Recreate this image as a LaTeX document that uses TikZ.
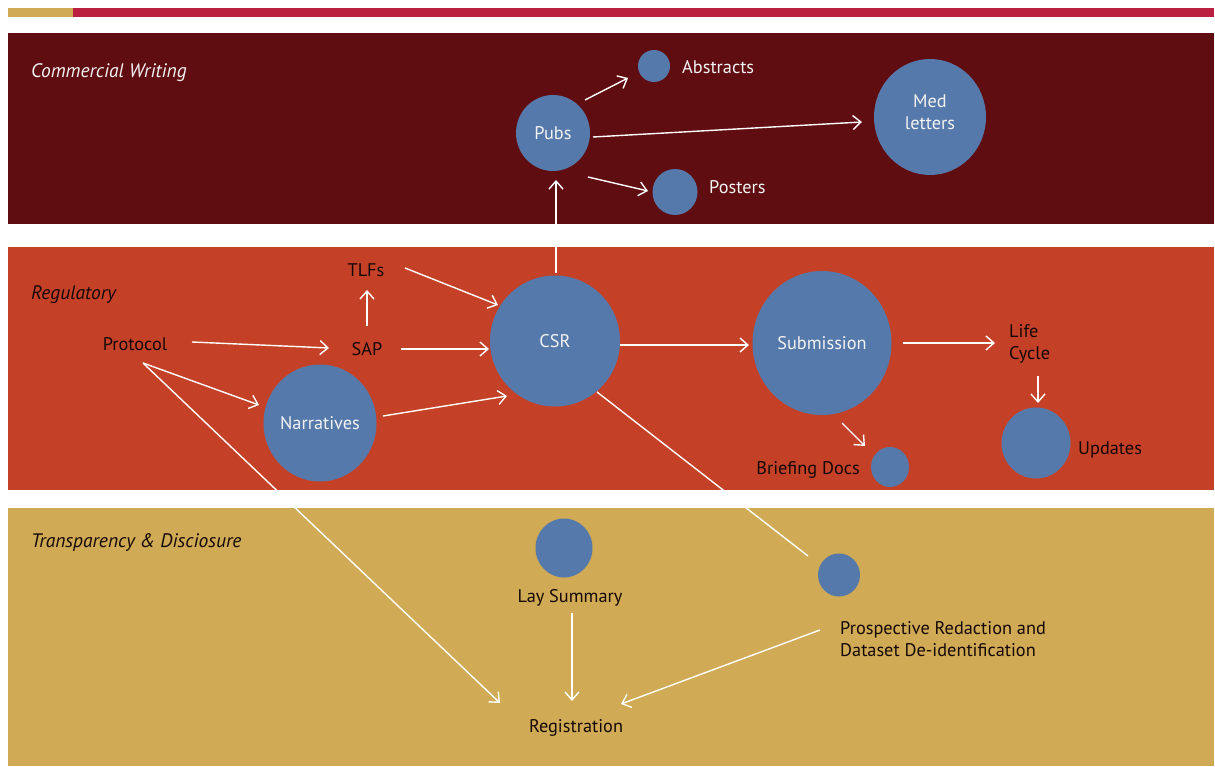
\documentclass[tikz,border=0pt]{standalone}
\usepackage{fontspec}
\setmainfont{PT Sans}
\usetikzlibrary{arrows.meta,shapes.geometric,calc}
\definecolor{goldc}{HTML}{D0AA55}
\definecolor{crims}{HTML}{BA2140}
\definecolor{darkred}{HTML}{600D12}
\definecolor{regred}{HTML}{C44128}
\definecolor{bluec}{HTML}{5579AB}
\definecolor{txtd}{HTML}{140808}
\definecolor{txtw}{HTML}{F2F2F2}
\tikzset{
  bubble/.style={ellipse,fill=bluec,inner sep=0pt,text=txtw,font=\fontsize{18.3}{21.5}\selectfont,align=center},
  lbl/.style={inner sep=0pt,text=txtd,font=\fontsize{18.3}{21.5}\selectfont,align=left},
  wlbl/.style={inner sep=0pt,text=txtw,font=\fontsize{18.3}{21.5}\selectfont},
  band/.style={font=\fontsize{19.5}{22}\selectfont\itshape,inner sep=0pt,anchor=west},
  arr/.style={draw=white,line width=1.4pt,-{Straight Barb[length=8pt,width=14pt,line width=1.4pt]}},
  ln/.style={draw=white,line width=1.4pt}
}
\begin{document}
\begin{tikzpicture}[x=1pt,y=-1pt]
\useasboundingbox (0,0) rectangle (1215,767);
\fill[white] (0,0) rectangle (1215,767);
% top bar
\fill[goldc] (8,8) rectangle (73,17);
\fill[crims] (73,8) rectangle (1214,17);
% bands
\fill[darkred] (8,33) rectangle (1214,224);
\fill[regred] (8,247) rectangle (1214,490);
\fill[goldc] (8,508) rectangle (1214,766);
\node[band,text=txtw] (bcw) at (31,72.5) {Commercial Writing};
\node[band,text=txtd] (breg) at (31,294.5) {Regulatory};
\node[band,text=txtd] (btd) at (31,542.5) {Transparency \& Disciosure};
% commercial
\node[bubble,minimum width=74pt,minimum height=76pt] (pubs) at (553,133) {Pubs};
\node[bubble,minimum width=32pt,minimum height=32pt] (absc) at (654,66) {};
\node[wlbl,anchor=west] (abs) at (682,67) {Abstracts};
\node[bubble,minimum width=112pt,minimum height=116pt] (med) at (930,117) {};
\node[wlbl,align=center] (medt) at (930,112) {Med\\letters};
\node[bubble,minimum width=45pt,minimum height=46pt] (postc) at (675,192) {};
\node[wlbl,anchor=west] (post) at (709,187) {Posters};
% regulatory
\node[bubble,minimum width=130pt,minimum height=131pt] (csr) at (555,341) {CSR};
\node[bubble,minimum width=113pt,minimum height=117pt] (narr) at (320,423) {Narratives};
\node[bubble,minimum width=139pt,minimum height=144pt] (sub) at (822,343) {Submission};
\node[bubble,minimum width=38pt,minimum height=40pt] (briefc) at (890,467) {};
\node[bubble,minimum width=69pt,minimum height=71pt] (updc) at (1036,443) {};
\node[lbl] (protocol) at (135,344.5) {Protocol};
\node[lbl] (sap) at (367,349.5) {SAP};
\node[lbl] (tlfs) at (366,270.5) {TLFs};
\node[lbl,anchor=west] (life) at (1009,344) {Life\\Cycle};
\node[lbl,anchor=west] (upd) at (1078,449.5) {Updates};
\node[lbl,anchor=east] (brief) at (860,469.5) {Briefing Docs};
% transparency
\node[bubble,minimum width=57pt,minimum height=59pt] (layc) at (564,548) {};
\node[lbl] (lay) at (570,597.5) {Lay Summary};
\node[bubble,minimum width=42pt,minimum height=43pt] (prc) at (839,575) {};
\node[lbl,anchor=west] (pros) at (840,639) {Prospective Redaction and\\Dataset De-identification};
\node[lbl] (reg) at (576,727.5) {Registration};
% connectors
\draw[arr] ($(pubs)+(32,-33)$) -- ($(absc)+(-26,12)$);
\draw[arr] ($(pubs)+(40,4)$) -- ($(med)+(-68,5)$);
\draw[arr] ($(pubs)+(35,44)$) -- ($(postc)+(-27,-1)$);
\draw[arr] ($(csr)+(1,-68)$) -- ($(pubs)+(3,47)$);
\draw[arr] ($(tlfs)+(39,-2.5)$) -- ($(csr)+(-57,-36)$);
\draw[arr] ($(sap)+(0,-23.5)$) -- ($(tlfs)+(1,19.5)$);
\draw[arr] ($(protocol)+(57,-2.5)$) -- ($(sap)+(-38,-1.5)$);
\draw[arr] ($(sap)+(34,-0.5)$) -- ($(csr)+(-66,8)$);
\draw[arr] ($(protocol)+(8,18.5)$) -- ($(narr)+(-61,-18)$);
\draw[arr] ($(narr)+(63,-7)$) -- ($(csr)+(-48,55)$);
\draw[arr] ($(protocol)+(8,18.5)$) -- ($(reg)+(-76,-24.5)$);
\draw[ln] ($(csr)+(42,51)$) -- ($(prc)+(-31,-19)$);
\draw[arr] ($(csr)+(65,4)$) -- ($(sub)+(-73,2)$);
\draw[arr] ($(sub)+(81,0)$) -- ($(life.west)+(-14,-1)$);
\draw[arr] ($(updc)+(2,-67)$) -- ($(updc)+(2,-40)$);
\draw[arr] ($(sub)+(20,80)$) -- ($(briefc)+(-25,-21)$);
\draw[arr] ($(lay)+(2,15.5)$) -- ($(reg)+(-4,-26.5)$);
\draw[arr] ($(pros.west)+(-20,-9)$) -- ($(reg)+(45,-23.5)$);
\end{tikzpicture}
\end{document}
